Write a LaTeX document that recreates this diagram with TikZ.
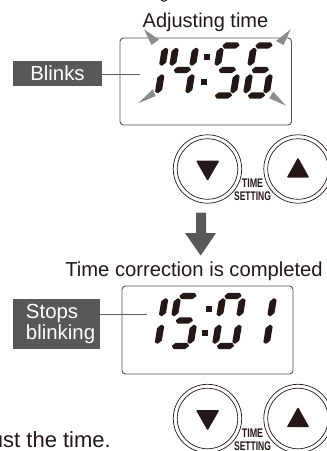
\documentclass[tikz,border=0pt]{standalone}
\usepackage{fontspec}
\setmainfont{Liberation Sans}
\definecolor{darkbox}{HTML}{595757}
\definecolor{ink}{HTML}{231815}
\definecolor{blink}{HTML}{8C8C8C}
\newcommand\fsz[1]{\fontsize{#1}{#1}\selectfont}
% seven segments, local coords about the digit's mid-height
\newcommand\sgV[3]{\fill[ink,rounded corners=.5pt] (#1+.6,#2) -- (#1+3.5,#2+2) -- (#1+3.3,#3-3.5) -- (#1-.6,#3) -- (#1-3.5,#3-2) -- (#1-3.3,#2+3.5) -- cycle;}
\newcommand\sgH[1]{\fill[ink,rounded corners=.5pt] (1.5,#1) -- (5,#1-3.2) -- (16.5,#1-3.2) -- (19,#1) -- (15,#1+3.2) -- (4,#1+3.2) -- cycle;}
\newcommand\sUL{\sgV{0}{-23}{-4.5}}
\newcommand\sLL{\sgV{0}{3.5}{23}}
\newcommand\sUR{\sgV{20}{-23}{-4.5}}
\newcommand\sLR{\sgV{20}{3.5}{23}}
\newcommand\sT{\sgH{-25}}
\newcommand\sM{\sgH{-0.5}}
\newcommand\sB{\sgH{25}}
\newcommand\dgt[3]{\begin{scope}[shift={(#1,#2)},xslant=.15] #3 \end{scope}}
\tikzset{
  x=1pt,y=-1pt,
  label/.style={anchor=base,inner sep=0pt,font=\fsz{20.2},text=ink},
  tag/.style={fill=darkbox,text=white,inner sep=0pt,font=\fontsize{20.4}{21.7}\selectfont},
  screen/.style={draw=ink!75!white,line width=.9pt,rounded corners=3.5pt},
  leader/.style={draw=ink!70!white,line width=.7pt},
  ray/.style={fill=blink},
  ring/.style={circle,draw=ink,line width=.7pt,inner sep=0pt,fill=white},
  tri/.style={fill=ink,rounded corners=1pt},
  cond/.style={anchor=center,inner sep=0pt,text=ink,font=\fsz{12.5}\bfseries},
  bigarrow/.style={fill=darkbox}
}
\newcommand\buttons[2]{%
  \begin{scope}[yshift=-#1pt]
  \node[ring,minimum size=68.4pt] (#2dnO) at (207.5,169) {};
  \node[ring,minimum size=60.5pt] (#2dnI) at (207.5,169) {};
  \node[ring,minimum size=68.4pt] (#2upO) at (298,169) {};
  \node[ring,minimum size=60.5pt] (#2upI) at (298,169) {};
  \fill[tri] (196,160.7) -- (219.3,160.7) -- (207.6,181) -- cycle;
  \fill[tri] (286.7,177.7) -- (309.3,177.7) -- (298,157.5) -- cycle;
  \node[cond,xscale=.72] (#2time) at (252.5,183.6) {TIME};
  \node[cond,xscale=.68] (#2set) at (252.5,196.4) {SETTING};
  \end{scope}}
\begin{document}
\begin{tikzpicture}
\useasboundingbox (0,0) rectangle (327,451);
\fill[white] (0,0) rectangle (327,451);

% fragment of the line above, cut by the image edge
\draw[ink,line width=1pt] (161,0) .. controls (162,1.8) and (165,1.8) .. (167,0);

% top display
\node[label,font=\fsz{20}] (adj) at (205.5,27) {Adjusting time};
\draw[screen] (120,38) rectangle (291.5,125);
\fill[ray] (144,29.3) -- (159,39.5) -- (151.5,45) -- cycle;
\fill[ray] (290.7,29.3) -- (276,41) -- (283.5,45) -- cycle;
\fill[ray] (138.3,103.3) -- (152.7,89.3) -- (155.7,96) -- cycle;
\fill[ray] (286,105.7) -- (269.3,98.3) -- (273.3,91.7) -- cycle;
\dgt{141.7}{70.5}{\sUR\sLR}
\dgt{172}{70.5}{\sUL\sUR\sLR\sM}
\dgt{217}{70.5}{\sT\sUL\sM\sLR\sB}
\dgt{250}{70.5}{\sT\sUL\sM\sLL\sLR\sB}
\fill[ink] (204,54) rectangle (210,60);
\fill[ink] (201,79) rectangle (207,85);
\node[tag,minimum width=89pt,minimum height=25pt] (blinks) at (57.5,73.5) {Blinks};
\coordinate (blinkend) at (140,74);
\draw[leader] (blinks.east |- blinkend) -- (blinkend);

% upper buttons
\buttons{0}{a}

% arrow
\fill[bigarrow] (196,212.7) -- (206,212.7) -- (206,233) -- (216,233) -- (200.7,255.5) -- (185,233) -- (196,233) -- cycle;

% bottom display
\node[label] (done) at (194,276.7) {Time correction is completed};
\draw[screen] (122,286) rectangle (293,374);
\dgt{141.5}{321}{\sUR\sLR}
\dgt{174}{321}{\sT\sUL\sM\sLR\sB}
\dgt{219}{321}{\sT\sUL\sUR\sLL\sLR\sB}
\dgt{250}{321}{\sUR\sLR}
\fill[ink] (206,306) rectangle (212,312);
\fill[ink] (202,330) rectangle (208,336);
\node[tag,text width=87pt,align=left,minimum height=50pt] (stops) at (56.5,324) {\hspace*{13pt}Stops\\\hspace*{13pt}blinking};
\coordinate (stopsend) at (147,314);
\draw[leader] (stops.east |- stopsend) -- (stopsend);

% lower buttons
\buttons{249.5}{b}

% cut-off text
\node[label,anchor=base east,font=\fsz{22}] (adjust) at (111,447.5) {ust the time.};
\end{tikzpicture}
\end{document}
